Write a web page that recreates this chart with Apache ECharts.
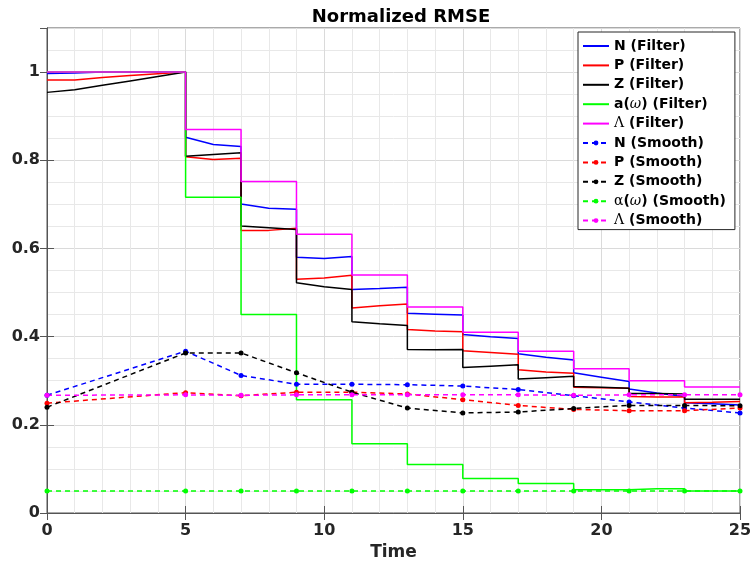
<!DOCTYPE html>
<html>
<head>
<meta charset="utf-8">
<script src="https://cdn.jsdelivr.net/npm/echarts@6/dist/echarts.min.js"></script>
<style>
  html, body { margin: 0; padding: 0; background: #fff; }
  #chart { width: 751px; height: 562px; }
</style>
</head>
<body>
<div id="chart"></div>
<script>
// Filter estimates: the first segment runs over t = 0..5, every later one over [s, s+2]
// with values at s, s+1 and s+2; each segment starts with a jump.
const segmentStarts = [0, 5, 7, 9, 11, 13, 15, 17, 19, 21, 23];

const nFilter = [
  [0.997, 0.998, 1.0, 1.0, 1.0, 1.0],
  [0.852, 0.836, 0.831], [0.701, 0.691, 0.689], [0.580, 0.577, 0.582],
  [0.507, 0.509, 0.512], [0.453, 0.451, 0.449], [0.405, 0.400, 0.396],
  [0.361, 0.353, 0.347], [0.318, 0.308, 0.298], [0.281, 0.272, 0.264],
  [0.250, 0.248, 0.245]
];
const pFilter = [
  [0.982, 0.982, 0.988, 0.992, 0.996, 1.0],
  [0.808, 0.8015, 0.8045], [0.641, 0.641, 0.646], [0.530, 0.533, 0.539],
  [0.465, 0.470, 0.474], [0.416, 0.413, 0.411], [0.368, 0.364, 0.360],
  [0.325, 0.320, 0.317], [0.285, 0.284, 0.283], [0.264, 0.263, 0.263],
  [0.250, 0.251, 0.253]
];
const zFilter = [
  [0.954, 0.960, 0.970, 0.980, 0.990, 1.0],
  [0.809, 0.813, 0.817], [0.651, 0.647, 0.643], [0.522, 0.513, 0.507],
  [0.434, 0.429, 0.425], [0.371, 0.370, 0.371], [0.330, 0.333, 0.336],
  [0.304, 0.307, 0.310], [0.287, 0.285, 0.283], [0.271, 0.271, 0.270],
  [0.258, 0.258, 0.258]
];
const aFilter = [
  [1.0, 1.0, 1.0, 1.0, 1.0, 1.0],
  [0.716, 0.716, 0.716], [0.450, 0.450, 0.450], [0.257, 0.257, 0.257],
  [0.157, 0.157, 0.157], [0.110, 0.110, 0.110], [0.078, 0.078, 0.078],
  [0.067, 0.067, 0.067], [0.053, 0.053, 0.053], [0.055, 0.055, 0.055],
  [0.050, 0.050, 0.050]
];
const lambdaFilter = [
  [1.0, 1.0, 1.0, 1.0, 1.0, 1.0],
  [0.870, 0.870, 0.870], [0.752, 0.752, 0.752], [0.632, 0.632, 0.632],
  [0.540, 0.540, 0.540], [0.467, 0.467, 0.467], [0.410, 0.410, 0.410],
  [0.367, 0.367, 0.367], [0.327, 0.327, 0.327], [0.300, 0.300, 0.300],
  [0.286, 0.286, 0.286]
];

// Smoother estimates at the observation times
const smoothTime = [0, 5, 7, 9, 11, 13, 15, 17, 19, 21, 23, 25];
const nSmooth = [0.267, 0.367, 0.312, 0.292, 0.292, 0.291, 0.288, 0.280, 0.266, 0.252, 0.238, 0.227];
const pSmooth = [0.249, 0.273, 0.266, 0.274, 0.274, 0.270, 0.257, 0.244, 0.235, 0.232, 0.232, 0.238];
const zSmooth = [0.240, 0.363, 0.363, 0.318, 0.274, 0.238, 0.227, 0.229, 0.237, 0.244, 0.244, 0.243];
const alphaSmooth = [0.050, 0.050, 0.050, 0.050, 0.050, 0.050, 0.050, 0.050, 0.050, 0.050, 0.050, 0.050];
const lambdaSmooth = [0.267, 0.268, 0.267, 0.268, 0.268, 0.268, 0.268, 0.268, 0.267, 0.268, 0.268, 0.268];

const xTicks = [0, 5, 10, 15, 20, 25];
const yTicks = [0, 0.2, 0.4, 0.6, 0.8, 1];

const seriesNames = [
  'N (Filter)', 'P (Filter)', 'Z (Filter)', 'a(ω) (Filter)', 'Λ (Filter)',
  'N (Smooth)', 'P (Smooth)', 'Z (Smooth)', 'α(ω) (Smooth)', 'Λ (Smooth)'
];
const colors = ['#0000ff', '#ff0000', '#000000', '#00ff00', '#ff00ff'];

function stepPoints(segments) {
  const pts = [];
  segments.forEach(function (vals, i) {
    const s = segmentStarts[i];
    vals.forEach(function (v, k) { pts.push([s + k, v]); });
  });
  return pts;
}
function pairPoints(values) {
  return smoothTime.map(function (t, i) { return [t, values[i]]; });
}

const FONT = "'DejaVu Sans', sans-serif";
const filterSets = [nFilter, pFilter, zFilter, aFilter, lambdaFilter];
const smoothSets = [nSmooth, pSmooth, zSmooth, alphaSmooth, lambdaSmooth];

const series = [];
filterSets.forEach(function (set, i) {
  series.push({
    name: seriesNames[i], type: 'line', data: stepPoints(set),
    showSymbol: false, symbol: 'none', animation: false,
    lineStyle: { color: colors[i], width: 1.5 }, itemStyle: { color: colors[i] }
  });
});
smoothSets.forEach(function (set, i) {
  series.push({
    name: seriesNames[5 + i], type: 'line', data: pairPoints(set),
    symbol: 'circle', symbolSize: 5, animation: false,
    lineStyle: { color: colors[i], width: 1.5, type: [5, 4] },
    itemStyle: { color: colors[i] }
  });
});

// Legend labels with Greek letters set in a serif face
const legendLabels = {
  'a(ω) (Filter)': 'a({gi|ω}) (Filter)',
  'Λ (Filter)': '{g|Λ} (Filter)',
  'α(ω) (Smooth)': '{g|α}({gi|ω}) (Smooth)',
  'Λ (Smooth)': '{g|Λ} (Smooth)'
};
// Filter entries show a plain line, smoother entries a dashed line with a dot
const legendData = seriesNames.map(function (name, i) {
  return i < 5 ? { name: name, itemStyle: { opacity: 0 } } : { name: name };
});

const axisColor = '#555555';
const majorGrid = '#dadada';
const minorGrid = '#e8e8e8';

const option = {
  backgroundColor: '#ffffff',
  animation: false,
  title: {
    text: 'Normalized RMSE',
    left: 396, top: 3, textAlign: 'center',
    textStyle: { fontFamily: FONT, fontWeight: 'bold', fontSize: 18, color: '#000' }
  },
  grid: {
    left: 47, right: 11, top: 28, bottom: 49,
    outerBoundsMode: 'none', containLabel: false,
    show: true, borderColor: axisColor, borderWidth: 1, backgroundColor: 'transparent'
  },
  legend: {
    orient: 'vertical', left: 578, top: 32,
    padding: [7, 9, 2, 4], itemGap: 5.4, itemWidth: 26, itemHeight: 6,
    backgroundColor: '#ffffff', borderColor: '#262626', borderWidth: 1,
    data: legendData,
    formatter: function (name) { return legendLabels[name] || name; },
    textStyle: {
      fontFamily: FONT, fontWeight: 'bold', fontSize: 14, color: '#000',
      rich: {
        g: { fontFamily: "'DejaVu Serif', serif", fontWeight: 'normal', fontSize: 14, color: '#000' },
        gi: { fontFamily: "'DejaVu Serif', serif", fontStyle: 'italic', fontWeight: 'normal', fontSize: 14, color: '#000' }
      }
    }
  },
  xAxis: [{
    type: 'value', min: xTicks[0], max: xTicks[xTicks.length - 1], interval: xTicks[1] - xTicks[0],
    name: 'Time', nameLocation: 'middle', nameGap: 30,
    nameTextStyle: { fontFamily: FONT, fontWeight: 'bold', fontSize: 17, color: '#262626' },
    axisLine: { show: true, lineStyle: { color: axisColor, width: 1 } },
    axisTick: { show: true, inside: true, length: 7, lineStyle: { color: axisColor } },
    minorTick: { show: false, splitNumber: 5 },
    axisLabel: { margin: 10, fontFamily: FONT, fontWeight: 'bold', fontSize: 16, color: '#262626' },
    splitLine: { show: true, lineStyle: { color: majorGrid, width: 1 } },
    minorSplitLine: { show: true, lineStyle: { color: minorGrid, width: 1 } }
  }, {
    type: 'value', position: 'top', min: xTicks[0], max: xTicks[xTicks.length - 1], interval: xTicks[1] - xTicks[0],
    axisLine: { show: true, lineStyle: { color: axisColor, width: 1 } },
    axisTick: { show: true, inside: true, length: 7, lineStyle: { color: axisColor } },
    axisLabel: { show: false }, splitLine: { show: false }
  }],
  yAxis: [{
    type: 'value', min: 0, max: 1.1, interval: yTicks[1] - yTicks[0],
    axisLine: { show: true, lineStyle: { color: axisColor, width: 1 } },
    axisTick: { show: true, inside: true, length: 7, lineStyle: { color: axisColor } },
    minorTick: { show: false, splitNumber: 4 },
    axisLabel: {
      margin: 7, fontFamily: FONT, fontWeight: 'bold', fontSize: 16, color: '#262626',
      showMaxLabel: false,
      formatter: function (v) { return yTicks.indexOf(+v.toFixed(2)) >= 0 ? String(+v.toFixed(1)) : ''; }
    },
    splitLine: { show: true, lineStyle: { color: majorGrid, width: 1 } },
    minorSplitLine: { show: true, lineStyle: { color: minorGrid, width: 1 } }
  }, {
    type: 'value', position: 'right', min: 0, max: 1.1, interval: yTicks[1] - yTicks[0],
    axisLine: { show: true, lineStyle: { color: axisColor, width: 1 } },
    axisTick: { show: true, inside: true, length: 7, lineStyle: { color: axisColor } },
    axisLabel: { show: false }, splitLine: { show: false }
  }],
  series: series
};

const chart = echarts.init(document.getElementById('chart'), null, { renderer: 'canvas' });
chart.setOption(option);
</script>
</body>
</html>
